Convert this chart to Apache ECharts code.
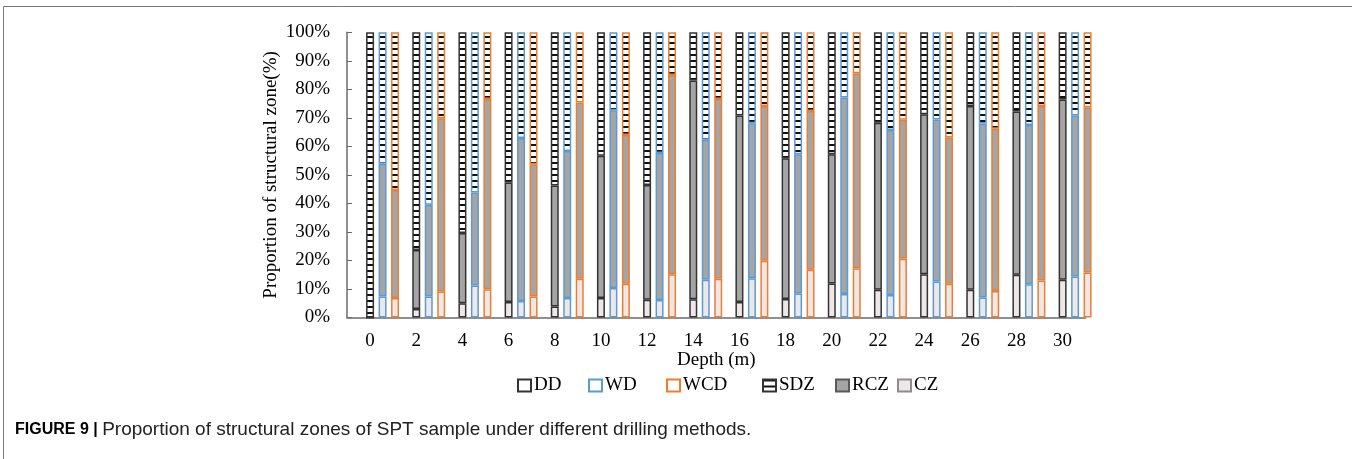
<!DOCTYPE html>
<html>
<head>
<meta charset="utf-8">
<script src="https://cdn.jsdelivr.net/npm/echarts@6/dist/echarts.min.js"></script>
<style>
  html, body { margin: 0; padding: 0; background: #fff; }
  #chart { width: 1352px; height: 459px; }
</style>
</head>
<body>
<div id="chart"></div>
<script>
// depth (m)
const depths = ['0', '2', '4', '6', '8', '10', '12', '14', '16', '18', '20', '22', '24', '26', '28', '30']

// proportion of each structural zone (%), per drilling method
const ddCZ = [0, 3.0, 5.0, 5.4, 3.9, 6.8, 6.2, 6.4, 5.4, 6.5, 11.9, 9.7, 15.2, 9.7, 15.0, 13.2]
const ddRCZ = [0, 20.7, 24.6, 41.9, 42.4, 49.9, 40.3, 76.7, 65.4, 49.3, 45.3, 58.6, 56.1, 64.5, 57.2, 63.2]
const ddSDZ = [100, 76.3, 70.4, 52.7, 53.7, 43.3, 53.5, 16.9, 29.2, 44.2, 42.8, 31.7, 28.7, 25.8, 27.8, 23.6]

const wdCZ = [7.4, 7.4, 11.2, 5.8, 6.8, 10.3, 6.1, 13.2, 13.8, 8.4, 8.2, 7.9, 12.6, 7.0, 11.7, 14.4]
const wdRCZ = [46.5, 32.1, 32.6, 57.1, 51.6, 62.4, 51.6, 49.1, 54.3, 48.8, 68.9, 57.8, 56.8, 61.0, 55.8, 56.4]
const wdSDZ = [46.1, 60.5, 56.2, 37.1, 41.6, 27.3, 42.3, 37.7, 31.9, 42.8, 22.9, 34.3, 30.6, 32.0, 32.5, 29.2]

const wcdCZ = [6.8, 9.1, 9.9, 7.4, 13.6, 11.8, 15.2, 13.6, 19.9, 16.7, 17.3, 20.6, 11.8, 9.3, 13.0, 15.8]
const wcdRCZ = [37.9, 60.8, 66.7, 46.3, 61.8, 52.2, 69.8, 63.0, 54.3, 55.7, 68.3, 48.7, 51.3, 56.9, 61.2, 57.9]
const wcdSDZ = [55.3, 30.1, 23.4, 46.3, 24.6, 36.0, 15.0, 23.4, 25.8, 27.6, 14.4, 30.7, 36.9, 33.8, 25.8, 26.3]

const yTicks = [0, 10, 20, 30, 40, 50, 60, 70, 80, 90, 100]

// horizontal line hatch for SDZ
function makeHatch() {
  const c = document.createElement('canvas')
  c.width = 4
  c.height = 6
  const ctx = c.getContext('2d')
  ctx.fillStyle = '#ffffff'
  ctx.fillRect(0, 0, 4, 6)
  ctx.fillStyle = '#111111'
  ctx.fillRect(0, 0, 4, 2)
  return c
}
const sdzFill = { image: makeHatch(), repeat: 'repeat' }

const serif = '"Liberation Serif", "Times New Roman", serif'
const sans = '"Liberation Sans", Arial, sans-serif'

const methods = [
  { name: 'DD', border: '#333333', CZ: ddCZ, RCZ: ddRCZ, SDZ: ddSDZ },
  { name: 'WD', border: '#5b9bd5', CZ: wdCZ, RCZ: wdRCZ, SDZ: wdSDZ },
  { name: 'WCD', border: '#ed7d31', CZ: wcdCZ, RCZ: wcdRCZ, SDZ: wcdSDZ },
]
const zones = [
  { name: 'CZ', fill: '#eee7e7', border: '#8c8c8c' },
  { name: 'RCZ', fill: '#a5a5a5', border: '#595959' },
  { name: 'SDZ', fill: sdzFill, border: '#333333' },
]

const BAR_W = 8
const BAR_GAP = '56%'

const series = []
// two empty stacks so that the DD bar sits on the category centre
;['p1', 'p2'].forEach((p) => {
  series.push({ name: p, type: 'bar', stack: p, data: [], barWidth: BAR_W, barGap: BAR_GAP })
})
zones.forEach((z) => {
  methods.forEach((m) => {
    series.push({
      name: m.name + '-' + z.name,
      type: 'bar',
      stack: m.name,
      barWidth: BAR_W,
      barGap: BAR_GAP,
      clip: false,
      data: m[z.name],
      itemStyle: { color: z.fill, borderColor: m.border, borderWidth: 1.5 },
      emphasis: { disabled: true },
    })
  })
})
// legend-only series on a hidden axis
methods.forEach((m) => {
  series.push({
    name: m.name, type: 'bar', xAxisIndex: 1, yAxisIndex: 1, data: [],
    itemStyle: { color: '#ffffff', borderColor: m.border, borderWidth: 1.2 },
  })
})
zones.slice().reverse().forEach((z) => {
  series.push({
    name: z.name, type: 'bar', xAxisIndex: 1, yAxisIndex: 1, data: [],
    itemStyle: { color: z.fill, borderColor: z.border, borderWidth: 1.2 },
  })
})

// legend entries, one component each (icon left edge in px)
const legendItems = [['DD', 517], ['WD', 588], ['WCD', 666], ['SDZ', 762], ['RCZ', 835], ['CZ', 897]]
const legends = legendItems.map(([name, x]) => ({
  data: [name],
  left: x - 5,
  top: 371,
  icon: 'rect',
  itemWidth: 13,
  itemHeight: 12,
  selectedMode: false,
  textStyle: { fontFamily: serif, fontSize: 19, color: '#000', padding: [0, 0, 0, -2] },
}))

const option = {
  backgroundColor: '#fff',
  animation: false,
  graphic: [
    {
      type: 'rect',
      shape: { x: 3.5, y: 6.5, width: 1400, height: 500 },
      style: { fill: 'none', stroke: '#777', lineWidth: 1 },
      silent: true,
    },
  ],
  title: {
    left: 10,
    top: 415,
    text: '{b|FIGURE 9 | }{n|Proportion of structural zones of SPT sample under different drilling methods.}',
    textStyle: {
      rich: {
        b: { fontFamily: sans, fontWeight: 'bold', fontSize: 16, color: '#000' },
        n: { fontFamily: sans, fontWeight: 'normal', fontSize: 19, color: '#222' },
      },
    },
  },
  legend: legends,
  grid: { left: 347, top: 32.3, width: 738.7, height: 285.2, containLabel: false },
  xAxis: [
    {
      type: 'category',
      data: depths,
      name: 'Depth (m)',
      nameLocation: 'middle',
      nameGap: 33,
      nameMoveOverlap: false,
      nameTextStyle: { fontFamily: serif, fontSize: 19, color: '#000' },
      axisLine: { lineStyle: { color: '#6b6b6b', width: 1.5 } },
      axisTick: { show: false },
      axisLabel: { fontFamily: serif, fontSize: 19, color: '#000', margin: 14 },
    },
    { type: 'category', data: ['x'], show: false },
  ],
  yAxis: [
    {
      type: 'value',
      min: yTicks[0],
      max: yTicks[yTicks.length - 1],
      interval: 10,
      name: 'Proportion of structural zone(%)',
      nameLocation: 'middle',
      nameGap: 66,
      nameMoveOverlap: false,
      nameTextStyle: { fontFamily: serif, fontSize: 19, color: '#000' },
      axisLine: { show: true, lineStyle: { color: '#6b6b6b', width: 1.5 } },
      axisTick: { show: true, inside: true, length: 5, lineStyle: { color: '#6b6b6b' } },
      axisLabel: { fontFamily: serif, fontSize: 19, color: '#000', margin: 17, formatter: '{value}%' },
      splitLine: { show: false },
    },
    { type: 'value', show: false },
  ],
  series: series,
}

const myChart = echarts.init(document.getElementById('chart'), null, { renderer: 'canvas' })
myChart.setOption(option)
</script>
</body>
</html>
